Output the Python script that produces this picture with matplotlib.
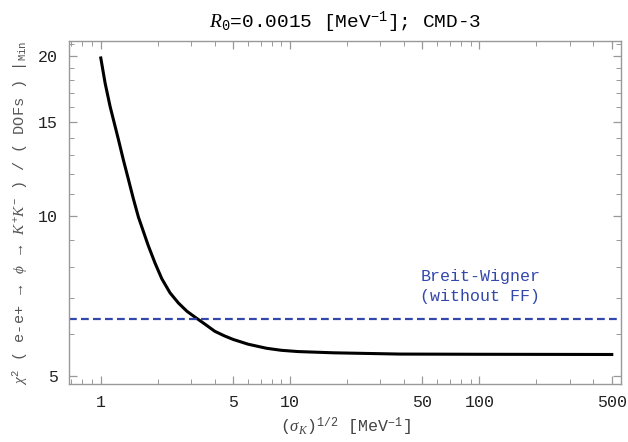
import matplotlib
matplotlib.use("Agg")
import matplotlib.pyplot as plt
import matplotlib.ticker as mticker
import numpy as np

# values
sigma_k = [1.0, 1.054, 1.12, 1.24, 1.316, 1.40, 1.487, 1.58, 1.78, 1.935, 2.10, 2.32,
           2.57, 2.85, 3.15, 3.55, 4.0, 4.5, 5.0, 6.0, 7.5, 9.0, 11.0, 17.0, 38.0, 100.0, 500.0]
chi2_dof = [19.8, 17.76, 16.05, 13.9, 12.74, 11.7, 10.76, 9.95, 8.80, 8.15, 7.62, 7.17,
            6.86, 6.62, 6.45, 6.26, 6.07, 5.95, 5.86, 5.74, 5.64, 5.59, 5.56, 5.53, 5.50, 5.495, 5.49]
bw_level = 6.4

x_major = [1, 5, 10, 50, 100, 500]
y_major = [5, 10, 15, 20]

plt.rcParams["font.family"] = ["Liberation Mono", "DejaVu Sans Mono"]
plt.rcParams["mathtext.fontset"] = "custom"
plt.rcParams["mathtext.rm"] = "Liberation Mono"
plt.rcParams["mathtext.it"] = "Liberation Serif:italic"
plt.rcParams["mathtext.bf"] = "Liberation Mono:bold"

fig = plt.figure(figsize=(6.28, 4.42), dpi=100)
ax = fig.add_axes([0.110, 0.131, 0.879, 0.776])

ax.plot(sigma_k, chi2_dof, color="black", lw=2.2, solid_joinstyle="round")
ax.axhline(bw_level, color="#3447aa", lw=1.6, dashes=(3.5, 1.9))
ax.text(101, 7.38, "Breit-Wigner\n(without FF)", color="#3447aa",
        ha="center", va="center", fontsize=12, linespacing=1.4)

ax.set_xscale("log")
ax.set_yscale("log")
ax.set_xlim(0.68, 560)
ax.set_ylim(4.83, 21.3)

ax.xaxis.set_major_locator(mticker.FixedLocator(x_major))
ax.xaxis.set_major_formatter(mticker.FixedFormatter([str(v) for v in x_major]))
ax.xaxis.set_minor_locator(mticker.LogLocator(base=10, subs=np.arange(1, 10), numticks=20))
ax.xaxis.set_minor_formatter(mticker.NullFormatter())
ax.yaxis.set_major_locator(mticker.FixedLocator(y_major))
ax.yaxis.set_major_formatter(mticker.FixedFormatter([str(v) for v in y_major]))
ax.yaxis.set_minor_locator(mticker.FixedLocator(list(range(5, 22))))
ax.yaxis.set_minor_formatter(mticker.NullFormatter())

ax.tick_params(which="both", direction="in", top=True, right=True,
               color="#999999", labelsize=12, labelcolor="#222222")
ax.tick_params(which="major", length=6, width=0.9, pad=8)
ax.tick_params(which="minor", length=3.5, width=0.7)
for s in ax.spines.values():
    s.set_color("#999999")
    s.set_linewidth(1.0)

ax.set_title(r"$R_0$=0.0015 [MeV$^{-1}$]; CMD-3", fontsize=14, pad=10)
ax.set_xlabel(r"($\sigma_K$)$^{1/2}$ [MeV$^{-1}$]", fontsize=12, color="#444444", labelpad=4)
ax.set_ylabel(r"$\chi^2$ ( e-e+ $\rightarrow$ $\phi$ $\rightarrow$ $K^{+}K^{-}$ ) / ( DOFs ) |$_{\rm Min}$",
              fontsize=11, color="#555555", labelpad=6)

fig.savefig("out.png", dpi=100)
